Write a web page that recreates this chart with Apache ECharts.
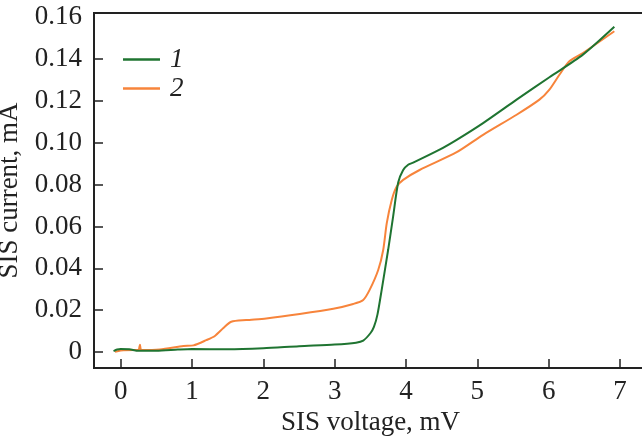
<!DOCTYPE html>
<html>
<head>
<meta charset="utf-8">
<script src="https://cdn.jsdelivr.net/npm/echarts@6/dist/echarts.min.js"></script>
<style>html,body{margin:0;padding:0;background:#fff;}#c{width:642px;height:436px;}</style>
</head>
<body>
<div id="c"></div>
<script>
// Curve 1 (green)
const voltage1 = [-0.10,-0.05,0.00,0.12,0.25,0.50,0.80,1.00,1.50,2.00,2.50,3.00,3.30,3.40,3.50,3.55,3.60,3.66,3.75,3.82,3.89,3.96,4.03,4.10,4.47,4.71,5.08,5.55,6.01,6.48,6.92];
const current1 = [0.0005,0.0012,0.0015,0.0014,0.0006,0.0006,0.0012,0.0015,0.0013,0.0018,0.0028,0.0036,0.0045,0.0055,0.0090,0.0120,0.0180,0.0300,0.0490,0.0650,0.0810,0.0870,0.0895,0.0905,0.0967,0.1014,0.1094,0.1206,0.1313,0.1421,0.1554];
// Curve 2 (orange)
const voltage2 = [-0.08,0.00,0.20,0.25,0.27,0.29,0.55,0.88,1.02,1.20,1.32,1.44,1.55,1.76,2.04,2.51,2.98,3.26,3.40,3.49,3.61,3.68,3.73,3.80,3.87,3.96,4.19,4.71,5.08,5.55,5.87,6.01,6.15,6.29,6.48,6.92];
const current2 = [0.0001,0.0008,0.0010,0.0010,0.0035,0.0010,0.0013,0.0029,0.0032,0.0057,0.0077,0.0115,0.0145,0.0153,0.0161,0.0182,0.0207,0.0230,0.0249,0.0297,0.0392,0.0488,0.0616,0.0727,0.0791,0.0823,0.0870,0.0955,0.1038,0.1134,0.1206,0.1254,0.1325,0.1389,0.1429,0.1533];
const seriesNames = ['1','2'];
const xTicks = [0,1,2,3,4,5,6,7];
const yTicks = [0,0.02,0.04,0.06,0.08,0.10,0.12,0.14,0.16];

const green = '#1f7431', orange = '#f7843b', ink = '#222';
const font = 'Liberation Serif';
const fs = 27;
const zip = (a,b) => a.map((v,i)=>[v,b[i]]);

const chart = echarts.init(document.getElementById('c'), null, {renderer:'canvas'});
chart.setOption({
  animation:false,
  backgroundColor:'#fff',
  grid:{left:94, top:13, right:-5, bottom:68, show:true, borderColor:ink, borderWidth:2, backgroundColor:'transparent',
        containLabel:false, outerBoundsMode:'none'},
  legend:{
    data:seriesNames, orient:'vertical', left:118, top:41, itemWidth:37, itemHeight:2.5, itemGap:2, icon:'rect',
    textStyle:{fontFamily:font, fontSize:fs, fontStyle:'italic', color:ink, padding:[0,0,0,5]}
  },
  xAxis:{
    type:'value', min:-0.374, max:7.378,
    name:'SIS voltage, mV', nameLocation:'middle', nameGap:37,
    nameTextStyle:{fontFamily:font, fontSize:fs, color:ink},
    axisLine:{show:true, onZero:false, lineStyle:{color:ink, width:2}},
    axisTick:{show:true, inside:true, length:9, customValues:xTicks, lineStyle:{color:ink, width:1.5}},
    axisLabel:{customValues:xTicks, fontFamily:font, fontSize:fs, color:ink, margin:10},
    splitLine:{show:false}
  },
  yAxis:{
    type:'value', min:-0.0076, max:0.162,
    name:'SIS current, mA', nameLocation:'middle', nameGap:62,
    nameTextStyle:{fontFamily:font, fontSize:fs, color:ink},
    axisLine:{show:true, onZero:false, lineStyle:{color:ink, width:2}},
    axisTick:{show:true, inside:true, length:9, customValues:yTicks.slice(0,8), lineStyle:{color:ink, width:1.5}},
    axisLabel:{customValues:yTicks, fontFamily:font, fontSize:fs, color:ink, margin:12,
      formatter:v => v===0 ? '0' : v.toFixed(2)},
    splitLine:{show:false}
  },
  series:[
    {name:seriesNames[0], type:'line', data:zip(voltage1,current1), showSymbol:false, symbol:'none', smooth:0.25,
     lineStyle:{color:green, width:2}, itemStyle:{color:green}, z:3},
    {name:seriesNames[1], type:'line', data:zip(voltage2,current2), showSymbol:false, symbol:'none', smooth:0.25,
     lineStyle:{color:orange, width:2}, itemStyle:{color:orange}, z:2}
  ]
});
</script>
</body>
</html>
